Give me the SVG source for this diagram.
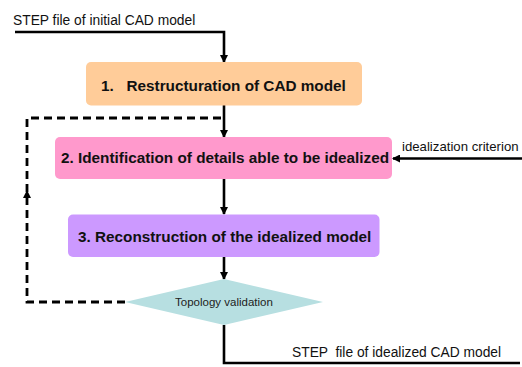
<svg xmlns="http://www.w3.org/2000/svg" width="522" height="367" viewBox="0 0 522 367">
  <style>
    .box-text { font-family: "Liberation Sans", Arial, sans-serif; font-weight: bold; font-size: 15.3px; fill: #111; }
    .label { font-family: "Liberation Sans", Arial, sans-serif; font-size: 13.8px; fill: #111; }
    .small { font-family: "Liberation Sans", Arial, sans-serif; font-size: 11.5px; fill: #222; }
    .flow { fill: none; stroke: #000; stroke-width: 2.6; }
    .loop { fill: none; stroke: #000; stroke-width: 2.8; stroke-dasharray: 8 5; }
  </style>
  <defs>
    <marker id="arrow" markerWidth="8" markerHeight="8" refX="7" refY="4" orient="auto" markerUnits="userSpaceOnUse">
      <path d="M0,0 L8,4 L0,8 Z" fill="#000"/>
    </marker>
  </defs>

  <rect width="522" height="367" fill="#fff"/>

  <!-- connectors -->
  <g id="connectors">
    <path class="flow" d="M15,32 H224 V62" marker-end="url(#arrow)"/>
    <path class="flow" d="M224,105 V137" marker-end="url(#arrow)"/>
    <path class="flow" d="M224,179 V214" marker-end="url(#arrow)"/>
    <path class="flow" d="M224,257 V279" marker-end="url(#arrow)"/>
    <path class="flow" d="M522,158.5 H393" marker-end="url(#arrow)"/>
    <path class="flow" d="M224,325 V363 H520"/>
    <path class="loop" d="M125,302 H27 V118 H222"/>
    <path d="M23,198 L27,190 L31,198 Z" fill="#000"/>
    <text class="label" x="13" y="25">STEP file of initial CAD model</text>
    <text class="label" x="402" y="151" style="font-size:13.2px">idealization criterion</text>
    <text class="label" x="292" y="357" xml:space="preserve">STEP  file of idealized CAD model</text>
  </g>

  <g id="step1">
    <rect x="86" y="62" width="276" height="43.5" rx="5" fill="#FFCC99"/>
    <text class="box-text" x="101" y="91" xml:space="preserve">1.   Restructuration of CAD model</text>
  </g>

  <g id="step2">
    <rect x="55" y="137" width="337" height="42" rx="5" fill="#FF99CC"/>
    <text class="box-text" x="61" y="163">2. Identification of details able to be idealized</text>
  </g>

  <g id="step3">
    <rect x="68" y="214.5" width="311.5" height="42.5" rx="5" fill="#CC99FF"/>
    <text class="box-text" x="78" y="242">3. Reconstruction of the idealized model</text>
  </g>

  <g id="validation">
    <polygon points="224,279 323,302 224,325 125,302" fill="#B7DFE1"/>
    <text class="small" x="224" y="306" text-anchor="middle">Topology validation</text>
  </g>
</svg>
